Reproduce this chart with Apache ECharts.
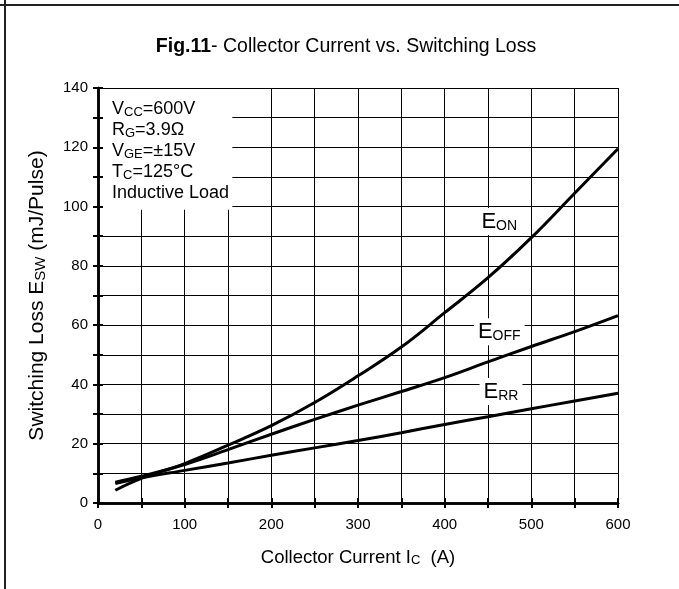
<!DOCTYPE html>
<html>
<head>
<meta charset="utf-8">
<script src="https://cdn.jsdelivr.net/npm/echarts@6/dist/echarts.min.js"></script>
<style>
html,body{margin:0;padding:0;background:#fff;}
#c{width:679px;height:589px;}
</style>
</head>
<body>
<div id="c"></div>
<script>
// ---- data ----
const currents   = [20, 50, 100, 150, 200, 250, 300, 350, 400, 450, 500, 550, 600];
const eonValues  = [4.3, 8.3, 13.3, 19.5, 26.1, 33.9, 42.9, 52.6, 64.2, 76.0, 89.5, 104.5, 119.5];
const eoffValues = [7.0, 9.0, 13.0, 18.0, 23.2, 28.2, 33.0, 37.6, 42.3, 47.6, 52.8, 57.8, 63.2];
const errValues  = [6.6, 8.5, 11.0, 13.5, 16.1, 18.6, 21.1, 23.7, 26.5, 29.1, 31.8, 34.4, 37.0];
const xTickLabels = [0, 100, 200, 300, 400, 500, 600];
const yTickLabels = [0, 20, 40, 60, 80, 100, 120, 140];
const conditionLines = [
  ['V', 'CC', '=600V'],
  ['R', 'G', '=3.9Ω'],
  ['V', 'GE', '=±15V'],
  ['T', 'C', '=125°C'],
  ['Inductive Load', '', '']
];
const curveLabels = [
  {main: 'E', sub: 'ON',  at: [463, 95]},
  {main: 'E', sub: 'OFF', at: [463, 57.8]},
  {main: 'E', sub: 'RR',  at: [465, 37.6]}
];

const FONT = '"Liberation Sans", Arial, sans-serif';
const BLACK = '#000';
const chart = echarts.init(document.getElementById('c'), null, {renderer: 'canvas'});

function pairs(xs, ys) { return xs.map((x, i) => [x, ys[i]]); }

const tickStyle = {show: true, inside: true, length: 5, lineStyle: {color: BLACK, width: 2}};
const lineStyleAxis = {show: true, lineStyle: {color: BLACK, width: 2.5}};

function seriesOf(name, vals) {
  return {
    name: name, type: 'line', smooth: 0.4, showSymbol: false, symbol: 'none',
    data: pairs(currents, vals), xAxisIndex: 0, yAxisIndex: 0,
    lineStyle: {color: BLACK, width: 3}, z: 3, silent: true
  };
}

const option = {
  animation: false,
  backgroundColor: '#fff',
  grid: {left: 98, right: 61, top: 88, bottom: 86},
  xAxis: [
    {
      type: 'value', position: 'bottom', min: 0, max: 600, interval: 50, z: 5,
      axisLine: lineStyleAxis, axisTick: tickStyle,
      splitLine: {show: false},
      axisLabel: {
        color: BLACK, fontSize: 15, fontFamily: FONT, margin: 14,
        formatter: v => xTickLabels.indexOf(v) >= 0 ? String(v) : ''
      },
      name: '{n|Collector Current I}{s|C}{n|  (A)}',
      nameLocation: 'middle', nameGap: 46,
      nameTextStyle: {
        color: BLACK,
        rich: {
          n: {fontSize: 18.5, fontFamily: FONT, color: BLACK, lineHeight: 18, verticalAlign: 'bottom'},
          s: {fontSize: 13, fontFamily: FONT, color: BLACK, lineHeight: 13, verticalAlign: 'bottom'}
        }
      }
    },
    {
      type: 'value', position: 'top', min: 0, max: 600, interval: 50, z: 5,
      axisLine: lineStyleAxis, axisTick: tickStyle,
      axisLabel: {show: false}, splitLine: {show: false}
    },
    {
      type: 'value', position: 'bottom', min: 0, max: 600, interval: 50, z: 0,
      axisLine: {show: false}, axisTick: {show: false}, axisLabel: {show: false},
      splitLine: {show: true, lineStyle: {color: BLACK, width: 1}}
    }
  ],
  yAxis: [
    {
      type: 'value', position: 'left', min: 0, max: 140, interval: 10, z: 5,
      axisLine: lineStyleAxis, axisTick: tickStyle,
      splitLine: {show: false},
      axisLabel: {
        color: BLACK, fontSize: 15, fontFamily: FONT, margin: 10,
        formatter: v => yTickLabels.indexOf(v) >= 0 ? String(v) : ''
      },
      name: '{n|Switching Loss E}{s|SW}{n| (mJ/Pulse)}',
      nameLocation: 'middle', nameGap: 50, nameRotate: 90,
      nameTextStyle: {
        color: BLACK,
        rich: {
          n: {fontSize: 21, fontFamily: FONT, color: BLACK, lineHeight: 21, verticalAlign: 'bottom'},
          s: {fontSize: 15, fontFamily: FONT, color: BLACK, lineHeight: 15, verticalAlign: 'bottom'}
        }
      }
    },
    {
      type: 'value', position: 'right', min: 0, max: 140, interval: 10, z: 5,
      axisLine: lineStyleAxis, axisTick: tickStyle,
      axisLabel: {show: false}, splitLine: {show: false}
    },
    {
      type: 'value', position: 'left', min: 0, max: 140, interval: 10, z: 0,
      axisLine: {show: false}, axisTick: {show: false}, axisLabel: {show: false},
      splitLine: {show: true, lineStyle: {color: BLACK, width: 1}}
    }
  ],
  series: [
    seriesOf('EON', eonValues),
    seriesOf('EOFF', eoffValues),
    seriesOf('ERR', errValues)
  ]
};
chart.setOption(option);

// ---- overlay: frame, title, conditions box, curve labels ----
const p0 = chart.convertToPixel({xAxisIndex: 0, yAxisIndex: 0}, [0, 140]);
const pBox = chart.convertToPixel({xAxisIndex: 0, yAxisIndex: 0}, [155, 99.3]);
const gridLeft = p0[0], gridTop = p0[1];

const elements = [];
elements.push({type: 'line', shape: {x1: 0, y1: 5, x2: 679, y2: 5}, style: {stroke: '#222', lineWidth: 2}, z: 10});
elements.push({type: 'line', shape: {x1: 5, y1: 0, x2: 5, y2: 589}, style: {stroke: '#222', lineWidth: 2}, z: 10});

elements.push({
  type: 'text', x: 346, y: 47, z: 10,
  style: {
    text: '{b|Fig.11}{n|- Collector Current vs. Switching Loss}',
    align: 'center', verticalAlign: 'middle',
    rich: {
      b: {fontSize: 19.5, fontWeight: 'bold', fontFamily: FONT, fill: BLACK},
      n: {fontSize: 19.5, fontFamily: FONT, fill: BLACK}
    }
  }
});

elements.push({
  type: 'rect', z: 1,
  shape: {x: gridLeft + 1, y: gridTop + 1, width: pBox[0] - gridLeft - 1, height: pBox[1] - gridTop},
  style: {fill: '#fff'}
});

conditionLines.forEach((ln, i) => {
  elements.push({
    type: 'text', x: gridLeft + 14, y: gridTop + 21.5 + i * 21, z: 6,
    style: {
      text: '{m|' + ln[0] + '}' + (ln[1] ? '{s|' + ln[1] + '}' : '') + (ln[2] ? '{m|' + ln[2] + '}' : ''),
      align: 'left', verticalAlign: 'middle',
      rich: {
        m: {fontSize: 18, fontFamily: FONT, fill: BLACK, lineHeight: 18, verticalAlign: 'bottom'},
        s: {fontSize: 13, fontFamily: FONT, fill: BLACK, lineHeight: 13, verticalAlign: 'bottom'}
      }
    }
  });
});

curveLabels.forEach(cl => {
  const p = chart.convertToPixel({xAxisIndex: 0, yAxisIndex: 0}, cl.at);
  elements.push({
    type: 'text', x: p[0], y: p[1], z: 6,
    style: {
      text: '{m|' + cl.main + '}{s|' + cl.sub + '}',
      align: 'center', verticalAlign: 'middle',
      backgroundColor: '#fff', padding: [3, 4, 2, 4],
      rich: {
        m: {fontSize: 22, fontFamily: FONT, fill: BLACK, lineHeight: 22, verticalAlign: 'bottom'},
        s: {fontSize: 14, fontFamily: FONT, fill: BLACK, lineHeight: 14, verticalAlign: 'bottom'}
      }
    }
  });
});

chart.setOption({graphic: {elements: elements}});
</script>
</body>
</html>
